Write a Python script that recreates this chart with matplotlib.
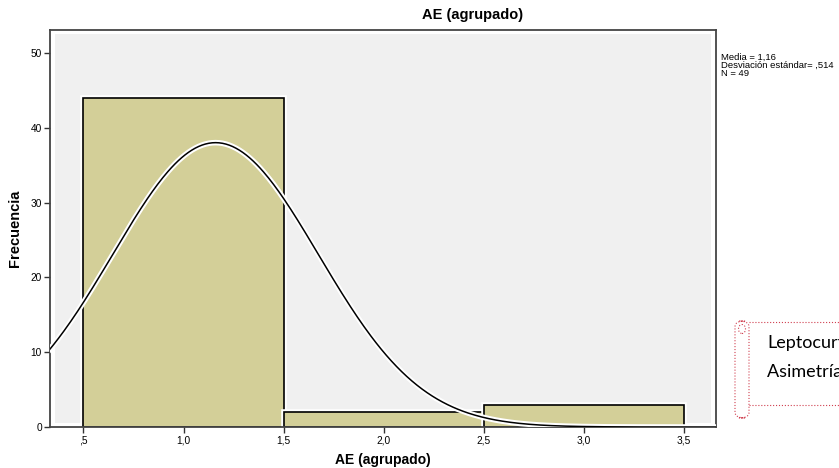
import numpy as np
import matplotlib.pyplot as plt
import matplotlib.patheffects as pe
from matplotlib.patches import Rectangle, FancyBboxPatch, Ellipse

plt.rcParams['font.family'] = ['Liberation Sans', 'DejaVu Sans']

bin_left = [0.5, 1.5, 2.5]
counts = [44, 2, 3]
bin_width = 1.0
media = 1.16
desv = 0.514
n = 49
xticks = [0.5, 1.0, 1.5, 2.0, 2.5, 3.0, 3.5]
xtick_labels = [',5', '1,0', '1,5', '2,0', '2,5', '3,0', '3,5']
yticks = [0, 10, 20, 30, 40, 50]

fig = plt.figure(figsize=(8.39, 4.68), dpi=100)
ax = fig.add_axes([0.0596, 0.0876, 0.7938, 0.8483])
ax.set_facecolor('white')
ax.add_patch(Rectangle((0.0075, 0.01), 0.985, 0.98, transform=ax.transAxes,
                       facecolor='#f0f0f0', edgecolor='none', zorder=0))

glow = [pe.withStroke(linewidth=4, foreground='white')]
bars = ax.bar(bin_left, counts, width=bin_width, align='edge', color='#d3cf98',
              edgecolor='black', linewidth=1.2, zorder=2)
for b in bars:
    b.set_path_effects(glow)

xs = np.linspace(0.3, 3.7, 400)
ys = n * bin_width / (desv * np.sqrt(2 * np.pi)) * np.exp(-0.5 * ((xs - media) / desv) ** 2)
ax.plot(xs, ys, color='black', lw=1.1, zorder=3,
        path_effects=[pe.withStroke(linewidth=4, foreground='white')])

ax.set_xlim(0.333, 3.66)
ax.set_ylim(0, 53.1)
ax.set_xticks(xticks)
ax.set_xticklabels(xtick_labels, fontsize=7.3)
ax.set_yticks(yticks)
ax.set_yticklabels([str(v) for v in yticks], fontsize=7.3)
ax.tick_params(length=4.3, width=1, color='#333333', pad=1.5)
for s in ax.spines.values():
    s.set_color('#444444')
    s.set_linewidth(1.3)

ax.set_ylabel('Frecuencia', fontsize=10.5, fontweight='bold', labelpad=6)
fig.text(383 / 839, 1 - 453 / 468, 'AE (agrupado)', fontsize=10, fontweight='bold',
         ha='center', va='top')
fig.text(473 / 839, 1 - 15 / 468, 'AE (agrupado)', fontsize=10.5, fontweight='bold',
         ha='center', va='center')

fig.text(721 / 839, 1 - 53 / 468,
         'Media = 1,16\nDesviación estándar= ,514\nN = 49',
         fontsize=6.8, ha='left', va='top', linespacing=0.85)

# scroll shaped note on the right
red = '#d04050'
fig.add_artist(plt.Line2D([749 / 839, 1.0], [1 - 322 / 468, 1 - 322 / 468],
                          color=red, lw=0.8, ls=':', transform=fig.transFigure))
fig.add_artist(plt.Line2D([749 / 839, 1.0], [1 - 405 / 468, 1 - 405 / 468],
                          color=red, lw=0.8, ls=':', transform=fig.transFigure))
fig.add_artist(FancyBboxPatch((735 / 839, 1 - 418 / 468), 14 / 839, 97 / 468,
                              boxstyle='round,pad=0,rounding_size=0.012',
                              transform=fig.transFigure, facecolor='none',
                              edgecolor=red, lw=0.8, ls=':'))
fig.add_artist(Ellipse((742 / 839, 1 - 329 / 468), 7 / 839, 9 / 468,
                       transform=fig.transFigure, facecolor='none',
                       edgecolor=red, lw=0.8, ls=':'))
fig.text(767 / 839, 1 - 343 / 468, 'Leptocurtica', fontsize=13, ha='left', va='center',
         family=['Lato', 'DejaVu Sans'])
fig.text(767 / 839, 1 - 372 / 468, 'Asimetría positiva', fontsize=13, ha='left', va='center',
         family=['Lato', 'DejaVu Sans'])

fig.savefig('out.png', dpi=100)
